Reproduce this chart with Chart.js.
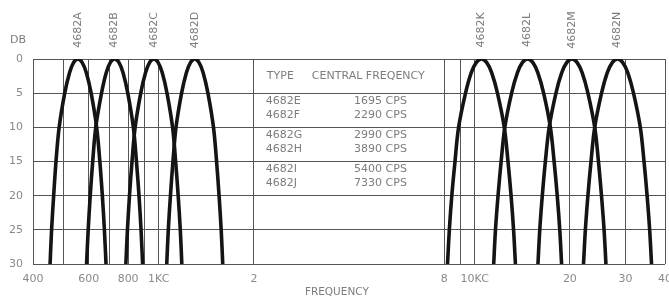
<!DOCTYPE html>
<html><head><meta charset="utf-8">
<script src="https://cdn.jsdelivr.net/npm/chart.js@4/dist/chart.umd.min.js"></script>
<style>html,body{margin:0;padding:0;background:#fff}canvas{display:block}</style>
</head><body>
<canvas id="c" width="669" height="302"></canvas>
<script>
// ---- data ----
const filterNames = ['4682A','4682B','4682C','4682D','4682K','4682L','4682M','4682N'];
const centerFreqs = [555, 725, 965, 1300, 10500, 14700, 20300, 28300];
const dbLevels = [30,25,20,15,10,5,2,0.5,0,0.5,2,5,10,15,20,25,30];
const freqA = [453,458,465,473,484,504,522,538,555,572,590,611,636,651,663,673,681];
const freqB = [591,598,607,618,632,659,682,703,725,748,771,798,831,850,866,879,889];
const freqC = [787,796,808,823,842,877,908,936,965,995,1026,1062,1106,1131,1152,1170,1183];
const freqD = [1060,1072,1089,1109,1134,1181,1223,1261,1300,1340,1382,1431,1490,1524,1552,1576,1594];
const freqK = [8200,8310,8460,8660,8890,9350,9750,10120,10500,10900,11310,11800,12400,12740,13030,13270,13450];
const freqL = [11480,11630,11850,12120,12450,13080,13650,14160,14700,15260,15830,16520,17350,17830,18240,18580,18830];
const freqM = [15850,16060,16360,16730,17200,18070,18850,19560,20300,21070,21870,22810,23970,24630,25180,25660,26010];
const freqN = [22090,22390,22810,23330,23970,25190,26270,27270,28300,29370,30490,31800,33410,34330,35110,35770,36260];
const curveFreqs = [freqA, freqB, freqC, freqD, freqK, freqL, freqM, freqN];

const gridFreqs = [400,500,600,700,800,900,1000,2000,8000,9000,10000,20000,30000,40000];
const labelFreqs = [400,600,800,1000,2000,8000,10000,20000,30000,40000];
const labelTexts = ['400','600','800','1KC','2','8','10KC','20','30','40'];
const yTicks = [0,5,10,15,20,25,30];

const tableTypes = ['4682E','4682F','4682G','4682H','4682I','4682J'];
const tableFreqs = [1695, 2290, 2990, 3890, 5400, 7330];

// ---- chart ----
const datasets = curveFreqs.map((fs, k) => ({
  label: filterNames[k],
  data: fs.map((f, i) => ({x: f, y: dbLevels[i]})),
  showLine: true,
  borderColor: '#141414',
  borderWidth: 3.6,
  pointRadius: 0,
  fill: false,
  tension: 0.35
}));

const textColor = '#7d7d7d';
const textPlugin = {
  id: 'texts',
  afterDraw(chart) {
    const ctx = chart.ctx, xs = chart.scales.x, ys = chart.scales.y;
    ctx.save();
    ctx.fillStyle = textColor;
    ctx.font = '11px "DejaVu Sans"';
    ctx.textAlign = 'center';
    ctx.textBaseline = 'middle';
    ctx.fillText('DB', 18, 40);
    filterNames.forEach((n, i) => {
      const x = xs.getPixelForValue(centerFreqs[i]);
      ctx.save();
      ctx.translate(x, 30);
      ctx.rotate(-Math.PI / 2);
      ctx.fillText(n, 0, 0);
      ctx.restore();
    });
    const tl = xs.getPixelForValue(2000);
    ctx.font = '10.5px "DejaVu Sans"';
    ctx.fillText('FREQUENCY', tl + 83, 292);
    // table
    ctx.font = '11px "DejaVu Sans"';
    ctx.textAlign = 'left';
    const hy = (ys.getPixelForValue(0) + ys.getPixelForValue(5)) / 2;
    ctx.fillText('TYPE', tl + 13, hy);
    ctx.fillText('CENTRAL FREQENCY', tl + 58, hy);
    tableTypes.forEach((t, i) => {
      const band = Math.floor(i / 2), sub = i % 2;
      const y = ys.getPixelForValue(5 + 5 * band) + (sub ? 22 : 8);
      ctx.textAlign = 'left';
      ctx.fillText(t, tl + 12, y);
      ctx.textAlign = 'right';
      ctx.fillText(tableFreqs[i] + ' CPS', tl + 153, y);
    });
    ctx.restore();
  }
};

new Chart(document.getElementById('c'), {
  type: 'scatter',
  data: { datasets },
  options: {
    responsive: false,
    animation: false,
    devicePixelRatio: 1,
    layout: { padding: { top: 59, right: 4, left: 0, bottom: 0 } },
    plugins: { legend: { display: false }, tooltip: { enabled: false } },
    scales: {
      x: {
        type: 'logarithmic', min: 400, max: 40000,
        afterBuildTicks(s) { s.ticks = gridFreqs.map(v => ({ value: v })); },
        afterFit(s) { s.paddingLeft = 0; s.paddingRight = 0; s.height = 38; },
        grid: { color: '#555', lineWidth: 1, drawTicks: false },
        border: { display: false },
        ticks: {
          autoSkip: false, maxRotation: 0, minRotation: 0, padding: 9,
          color: '#8a8a8a', font: { family: 'DejaVu Sans', size: 11 },
          callback(v) { const i = labelFreqs.indexOf(v); return i >= 0 ? labelTexts[i] : ''; }
        }
      },
      y: {
        type: 'linear', reverse: true, min: 0, max: 30,
        afterBuildTicks(s) { s.ticks = yTicks.map(v => ({ value: v })); },
        afterFit(s) { s.width = 33; s.paddingTop = 0; s.paddingBottom = 0; },
        grid: { color: '#555', lineWidth: 1, drawTicks: false },
        border: { display: false },
        ticks: { padding: 10, color: '#8a8a8a', font: { family: 'DejaVu Sans', size: 11 } }
      }
    }
  },
  plugins: [textPlugin]
});
</script>
</body></html>
